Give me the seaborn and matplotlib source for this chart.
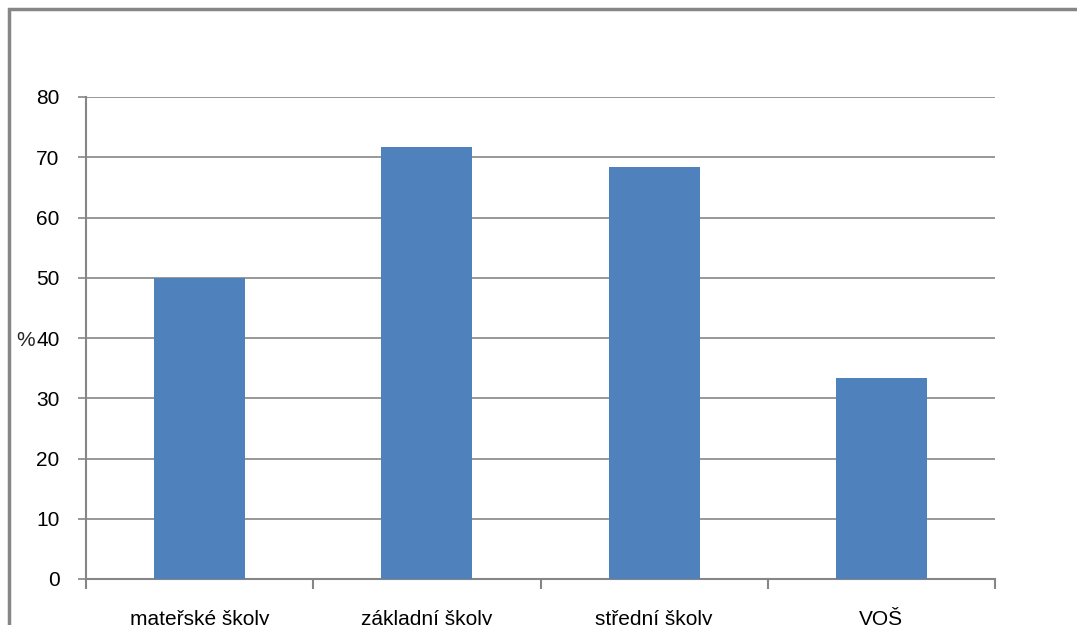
import matplotlib
matplotlib.use("Agg")
import matplotlib.pyplot as plt
import seaborn as sns
import pandas as pd
from matplotlib.patches import Rectangle

categories = ["mateřské školy", "základní školy", "střední školy", "VOŠ"]
values = [50.0, 71.7, 68.4, 33.3]
yticks = [0, 10, 20, 30, 40, 50, 60, 70, 80]

sns.set_style("white")
plt.rcParams['font.family'] = ['Liberation Sans Narrow', 'Liberation Sans', 'DejaVu Sans']

df = pd.DataFrame({"kat": categories, "val": values})

fig = plt.figure(figsize=(10.77, 6.25), dpi=100)
ax = fig.add_axes([86/1077, 46/625, 909/1077, 482/625])

sns.barplot(data=df, x="kat", y="val", color="#4F81BD", width=0.4,
            saturation=1, ax=ax, zorder=3, linewidth=0, edgecolor="none")

grid_c = "#868686"
ax.set_ylim(0, 80)
ax.set_xlim(-0.5, len(categories) - 0.5)
ax.set_yticks(yticks)
ax.set_yticklabels([str(t) for t in yticks], fontsize=15)
ax.yaxis.grid(True, color=grid_c, linewidth=1.2, zorder=0)
ax.xaxis.grid(False)
ax.set_axisbelow(True)

for s in ["top", "right"]:
    ax.spines[s].set_visible(False)
for s in ["left", "bottom"]:
    ax.spines[s].set_color(grid_c)
    ax.spines[s].set_linewidth(1.5)

ax.tick_params(axis="y", left=True, length=6, width=1.2, color=grid_c, pad=13, labelcolor="#000000")
ax.tick_params(axis="x", which="major", bottom=False, length=0, pad=22, labelsize=15, labelcolor="#000000")
ax.set_xticks([i - 0.5 for i in range(len(categories) + 1)], minor=True)
ax.tick_params(axis="x", which="minor", bottom=True, length=7, width=1.5, color=grid_c)

ax.set_xlabel("")
ax.set_ylabel("%", rotation=0, fontsize=15, labelpad=0, ha="right", va="center")
ax.yaxis.set_label_coords(-51/909, (579 - 340) / 482)

fig.patches.append(Rectangle((9/1077, -0.1), 1.2, (625 - 9)/625 + 0.1,
                             transform=fig.transFigure, fill=False,
                             edgecolor="#868686", linewidth=2.5))

fig.savefig("out.png", dpi=100)
